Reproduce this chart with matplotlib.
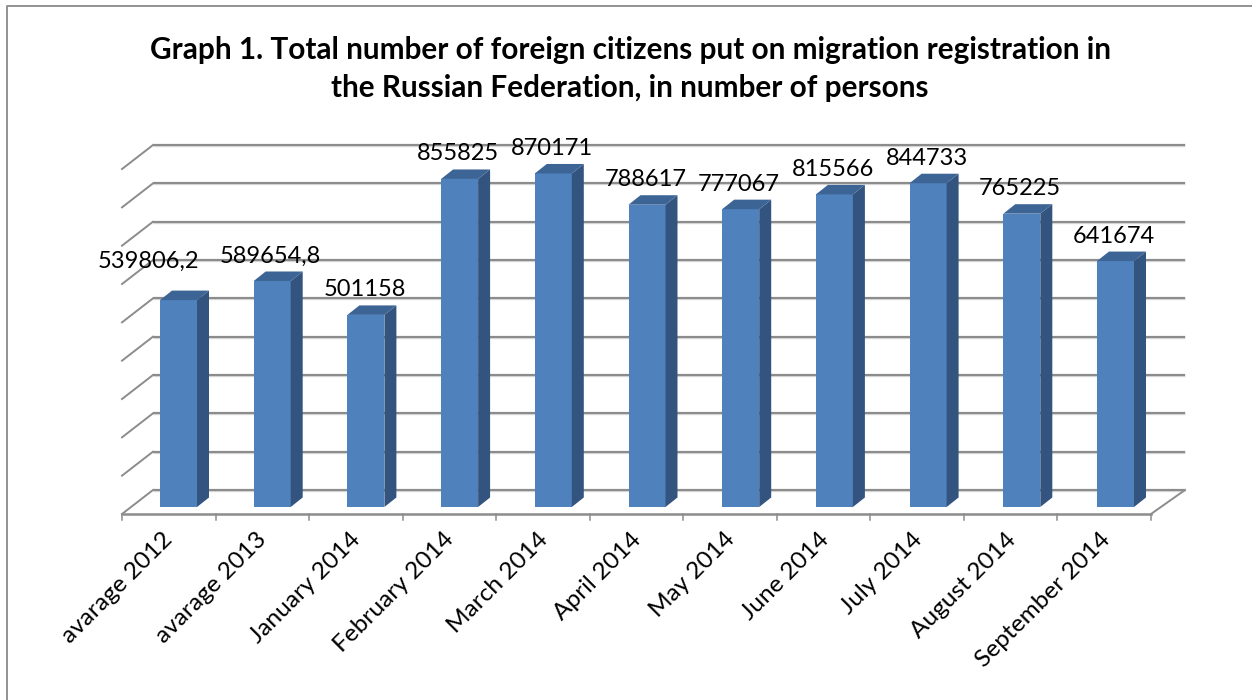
import numpy as np
import matplotlib
matplotlib.use('Agg')
import matplotlib.pyplot as plt
from matplotlib.patches import Polygon

categories = ['avarage 2012', 'avarage 2013', 'January 2014', 'February 2014', 'March 2014',
              'April 2014', 'May 2014', 'June 2014', 'July 2014', 'August 2014', 'September 2014']
values = [539806.2, 589654.8, 501158, 855825, 870171, 788617, 777067, 815566, 844733, 765225, 641674]
value_labels = ['539806,2', '589654,8', '501158', '855825', '870171', '788617', '777067',
                '815566', '844733', '765225', '641674']
grid_values = [0, 100000, 200000, 300000, 400000, 500000, 600000, 700000, 800000, 900000]

title = 'Graph 1. Total number of foreign citizens put on migration registration in\nthe Russian Federation, in number of persons'

plt.rcParams['font.family'] = ['Lato', 'DejaVu Sans']

W, H = 1252, 700
PX_X = 93.7      # pixels per category
PX_Y = 38.33 / 100000  # pixels per person
X0, Y0 = 178.5, 507  # pixel position of category 0, value 0

fig = plt.figure(figsize=(W / 100, H / 100), dpi=100)
ax = fig.add_axes([0, 0, 1, 1])
ax.set_xlim(-X0 / PX_X, (W - X0) / PX_X)
ax.set_ylim((Y0 - H) / PX_Y, Y0 / PX_Y)
ax.axis('off')

# sizes in data units, taken from pixels
bar_w = 37 / PX_X
dep_x, dep_y = 12 / PX_X, 9.5 / PX_Y
wall_x, wall_y = 31 / PX_X, 24 / PX_Y
floor_y = -7 / PX_Y
left = (122 - X0) / PX_X
right = (1151 - X0) / PX_X
grid_col = '#8c8c8c'

# outer frame, only top and left are in the crop
fig.add_artist(plt.Line2D([7 / W, 7 / W, 1], [0, 1 - 6 / H, 1 - 6 / H], color='#929292', lw=1.4))

# back wall grid, left wall, floor
for v in grid_values:
    y = v + floor_y + wall_y
    ax.plot([left + wall_x, right + wall_x + 3 / PX_X], [y, y], color='#d8d8d8', lw=2.4, zorder=1,
            solid_capstyle='butt')
    ax.plot([left + wall_x, right + wall_x + 3 / PX_X], [y, y], color=grid_col, lw=1.5, zorder=1.1,
            solid_capstyle='butt')
    ax.plot([left, left + wall_x], [v + floor_y, y], color=grid_col, lw=1.4, zorder=1.1)
ax.plot([right, right + wall_x + 3 / PX_X], [floor_y, floor_y + wall_y], color=grid_col, lw=1.4, zorder=1.1)
ax.plot([left, right], [floor_y, floor_y], color=grid_col, lw=1.8, zorder=1.2)

# ticks on the floor edge
tick_step = (right - left) / len(categories)
for i in range(len(categories) + 1):
    xt = left + i * tick_step
    ax.plot([xt, xt], [floor_y, floor_y - 6 / PX_Y], color=grid_col, lw=1.1, zorder=1.2)

# bars
x = np.arange(len(values))
ax.bar(x, values, width=bar_w, color='#4f81bd', zorder=3)
for xi, v in zip(x, values):
    x1, x2 = xi - bar_w / 2, xi + bar_w / 2
    ax.add_patch(Polygon([(x2, 0), (x2 + dep_x, dep_y), (x2 + dep_x, v + dep_y), (x2, v)],
                         fc='#345480', ec='none', zorder=3))
    ax.add_patch(Polygon([(x1, v), (x1 + dep_x, v + dep_y), (x2 + dep_x, v + dep_y), (x2, v)],
                         fc='#3c6595', ec='none', zorder=3))

# value labels
for i, (v, s) in enumerate(zip(values, value_labels)):
    dx = -1.5
    if i == 0:
        dx = -30
    up = 39 if i == 0 else 25
    ax.text(i + dx / PX_X, v + up / PX_Y, s, ha='center', va='center', fontsize=17, color='black', zorder=5)

# category labels
for i, c in enumerate(categories):
    ax.text(i - 9 / PX_X, floor_y - 22 / PX_Y, c, rotation=45, rotation_mode='anchor', ha='right', va='center',
            fontsize=17.6, color='black')

fig.text(630 / W, 1 - 69 / H, title, ha='center', va='center', fontsize=21.4, fontweight='bold',
         linespacing=1.4, color='black')

fig.savefig('out.png', dpi=100)
